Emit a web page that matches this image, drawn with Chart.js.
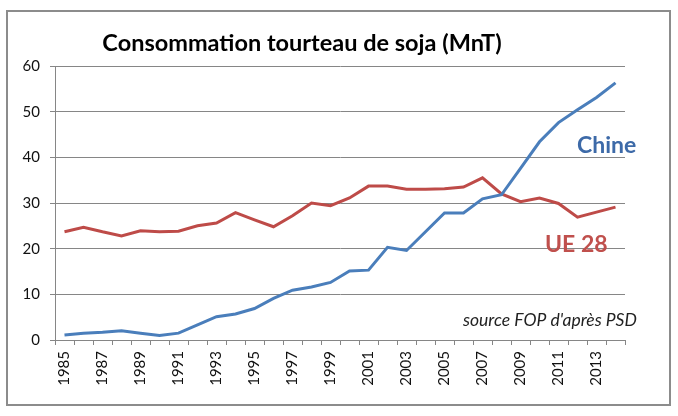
<!DOCTYPE html>
<html>
<head>
<meta charset="utf-8">
<script src="https://cdn.jsdelivr.net/npm/chart.js@4/dist/chart.umd.min.js"></script>
<style>
  html, body { margin: 0; padding: 0; background: #fff; }
  #wrap { width: 678px; height: 416px; position: relative; }
</style>
</head>
<body>
<div id="wrap"><canvas id="soja"></canvas></div>
<script>
const years = [];
for (let y = 1985; y <= 2014; y++) years.push(String(y));

const chine = [1.1, 1.5, 1.7, 2.0, 1.5, 1.0, 1.5, 3.3, 5.1, 5.7, 6.9, 9.1, 10.9, 11.6, 12.6,
               15.1, 15.3, 20.3, 19.6, 23.7, 27.8, 27.8, 30.9, 31.8, 37.6, 43.4, 47.6, 50.4, 53.1, 56.3];
const ue28 = [23.7, 24.7, 23.7, 22.8, 23.9, 23.7, 23.8, 25.0, 25.6, 27.9, 26.3, 24.8, 27.2, 30.0, 29.4,
              31.1, 33.7, 33.7, 33.0, 33.0, 33.1, 33.5, 35.5, 32.0, 30.3, 31.1, 29.9, 26.9, 28.0, 29.1];

const titleText = 'Consommation tourteau de soja (MnT)';
const sourceText = "source FOP d'après PSD";

const blue = '#4a7ebb';
const red = '#be4b48';
const gridGray = '#868686';

// cadre, titre et étiquettes des séries
const decor = {
    id: 'decor',
    afterDraw(chart) {
        const c = chart.ctx;
        c.save();
        c.strokeStyle = '#8c8c8c';
        c.lineWidth = 2;
        c.strokeRect(7, 11, 663, 394);

        c.fillStyle = '#000';
        c.font = 'bold 23.5px Lato';
        c.textAlign = 'center';
        c.textBaseline = 'middle';
        c.fillText(titleText, 302, 43);

        c.font = 'bold 23px Lato';
        c.textAlign = 'left';
        c.fillStyle = '#3d6aa8';
        c.fillText('Chine', 577, 146);
        c.fillStyle = '#c0504d';
        c.fillText('UE 28', 545, 245);

        c.font = 'italic 17.5px Lato';
        c.fillStyle = '#222';
        c.fillText(sourceText, 463, 320);
        c.restore();
    }
};

new Chart(document.getElementById('soja'), {
    type: 'line',
    data: {
        labels: years,
        datasets: [
            { label: 'Chine', data: chine, borderColor: blue, borderWidth: 3, pointRadius: 0, tension: 0 },
            { label: 'UE 28', data: ue28, borderColor: red, borderWidth: 3, pointRadius: 0, tension: 0 }
        ]
    },
    options: {
        responsive: true,
        maintainAspectRatio: false,
        animation: false,
        layout: { padding: { left: 10, right: 53, top: 66, bottom: 20 } },
        plugins: {
            legend: { display: false },
            tooltip: { enabled: false }
        },
        scales: {
            x: {
                offset: true,
                afterFit: s => { s.height = 56; },
                grid: { offset: true, drawOnChartArea: false, drawTicks: true, tickLength: 5, color: gridGray },
                border: { color: gridGray },
                ticks: {
                    autoSkip: false,
                    minRotation: 90,
                    maxRotation: 90,
                    color: '#111',
                    font: { family: 'Lato', size: 15 },
                    padding: 6,
                    callback: function (v, i) { return i % 2 === 0 ? this.getLabelForValue(v) : ''; }
                }
            },
            y: {
                min: 0,
                max: 60,
                afterFit: s => { s.width = 45; },
                grid: { color: gridGray, tickLength: 5 },
                border: { color: gridGray },
                ticks: {
                    stepSize: 10,
                    color: '#111',
                    font: { family: 'Lato', size: 15 },
                    padding: 10
                }
            }
        }
    },
    plugins: [decor]
});
</script>
</body>
</html>
